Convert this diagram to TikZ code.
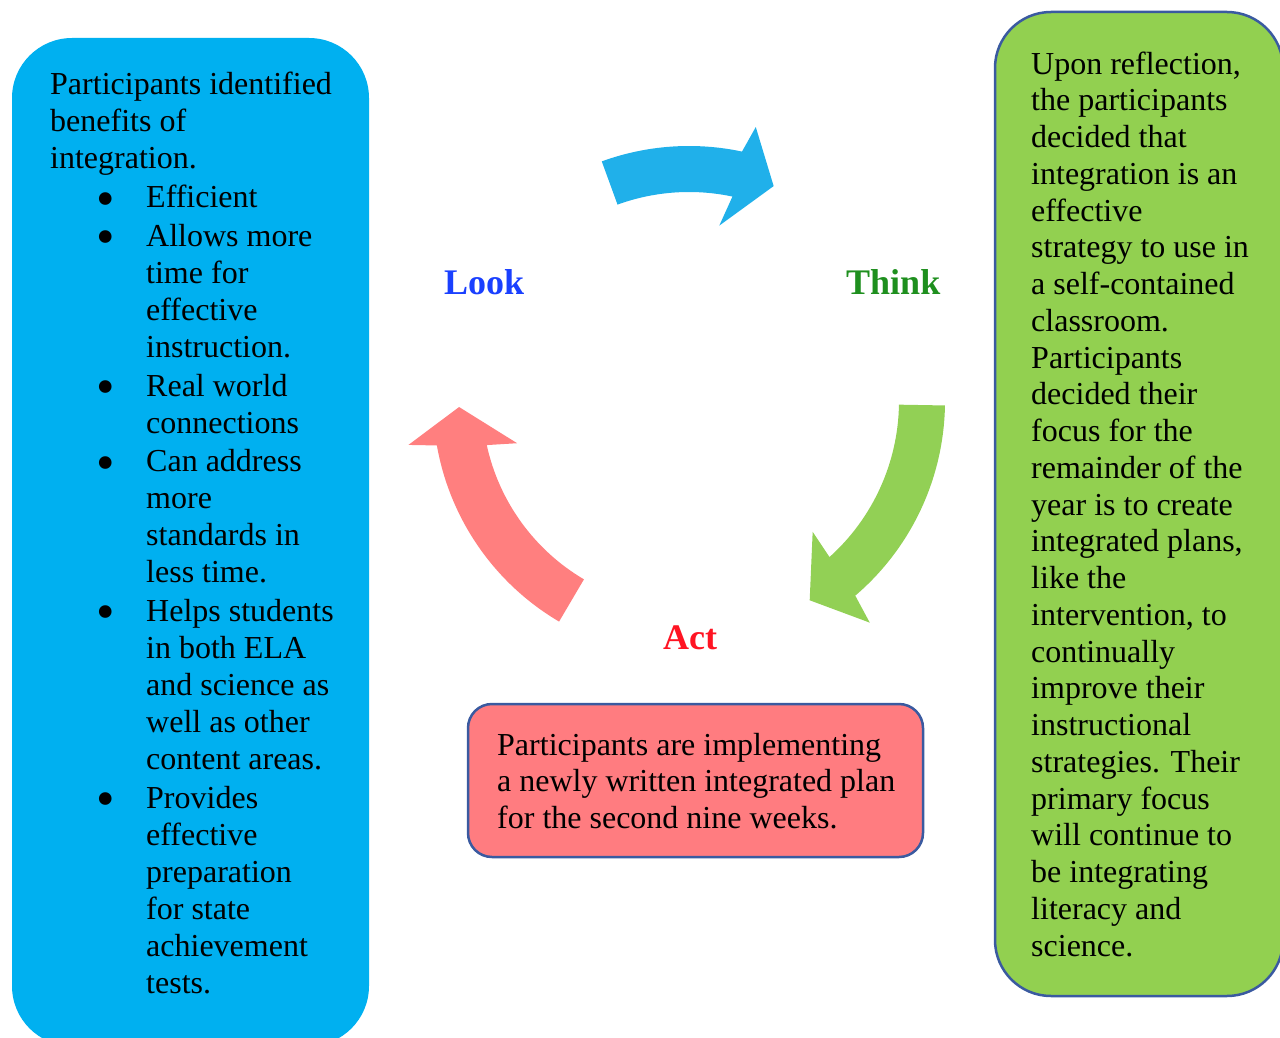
\documentclass[tikz,border=0pt]{standalone}
\usepackage{fontspec}
\setmainfont{Liberation Serif}
\definecolor{panelblue}{RGB}{0,176,240}
\definecolor{panelgreen}{RGB}{146,208,80}
\definecolor{panelred}{RGB}{255,124,128}
\definecolor{edgeblue}{RGB}{58,90,160}
\definecolor{arrowblue}{RGB}{32,176,234}
\definecolor{arrowgreen}{RGB}{146,208,85}
\definecolor{arrowred}{RGB}{255,127,127}
\definecolor{lookblue}{RGB}{26,64,255}
\definecolor{thinkgreen}{RGB}{30,143,30}
\definecolor{actred}{RGB}{255,20,35}
% bullet column and hanging indent for the list lines
\newcommand\bulletcol{\makebox[96pt][l]{\hspace*{46pt}\raisebox{-8.5pt}[0pt][0pt]{\scalebox{1.65}{\textbullet}}}}
\newcommand\indentcol{\hspace*{96pt}}
\tikzset{
  bodytext/.style={anchor=north west, inner sep=0pt, align=left,
    font=\fontsize{32}{36.75}\selectfont, text=black},
  stagelabel/.style={anchor=base west, inner sep=0pt,
    font=\fontsize{36}{42}\selectfont\bfseries},
  panel/.style={line width=2.5pt, draw=edgeblue},
}
\begin{document}
\begin{tikzpicture}[x=1pt,y=-1pt]
\useasboundingbox (0,0) rectangle (1280,1038);
\clip (0,0) rectangle (1280,1038);

% panels
\fill[panelblue, rounded corners=60pt] (12,38) rectangle (369,1046);
\filldraw[panel, fill=panelgreen, rounded corners=56pt] (995,12) rectangle (1283,996);
\filldraw[panel, fill=panelred, rounded corners=24pt] (468,704) rectangle (923,857);

% cycle arrows around the centre of the three stages
\begin{scope}[shift={(689,401)}, yscale=-1]
  \fill[arrowblue] (110:255) arc[start angle=110, end angle=78, radius=255]
    -- (76.3:282) -- (68.5:231) -- (80.2:178) -- (78:209)
    arc[start angle=78, end angle=110, radius=209] -- cycle;
  \fill[arrowgreen] (-1:256) arc[start angle=-1, end angle=-49.5, radius=256]
    -- (-50.8:286) -- (-58.8:233) -- (-46.6:180) -- (-48:210)
    arc[start angle=-48, end angle=-1, radius=210] -- cycle;
  \fill[arrowred] (239.5:256) arc[start angle=239.5, end angle=190, radius=256]
    -- (188.9:284) -- (181.5:230) -- (193.8:177) -- (192.3:207)
    arc[start angle=192.3, end angle=239.5, radius=207] -- cycle;
\end{scope}

% stage labels
\node[stagelabel, text=lookblue] (look) at (444,294) {Look};
\node[stagelabel, text=thinkgreen] (think) at (846,294) {Think};
\node[stagelabel, text=actred] (act) at (663,649) {Act};

% panel texts
\node[bodytext, font=\fontsize{32}{37}\selectfont] (lookText) at (50,68.8) {\strut Participants identified\\
benefits of\\
integration.\\[1.7pt]
\bulletcol Efficient\\[1.7pt]
\bulletcol Allows more\\
\indentcol time for\\
\indentcol effective\\
\indentcol instruction.\\[1.7pt]
\bulletcol Real world\\
\indentcol connections\\[1.7pt]
\bulletcol Can address\\
\indentcol more\\
\indentcol standards in\\
\indentcol less time.\\[1.7pt]
\bulletcol Helps students\\
\indentcol in both ELA\\
\indentcol and science as\\
\indentcol well as other\\
\indentcol content areas.\\[1.7pt]
\bulletcol Provides\\
\indentcol effective\\
\indentcol preparation\\
\indentcol for state\\
\indentcol achievement\\
\indentcol tests.};

\node[bodytext] (thinkText) at (1031,48.3) {\strut Upon reflection,\\
the participants\\
decided that\\
integration is an\\
effective\\
strategy to use in\\
a self-contained\\
classroom.\\
Participants\\
decided their\\
focus for the\\
remainder of the\\
year is to create\\
integrated plans,\\
like the\\
intervention, to\\
continually\\
improve their\\
instructional\\
strategies. Their\\
primary focus\\
will continue to\\
be integrating\\
literacy and\\
science.};

\node[bodytext] (actText) at (497,729.3) {\strut Participants are implementing\\
a newly written integrated plan\\
for the second nine weeks.};
\end{tikzpicture}
\end{document}
